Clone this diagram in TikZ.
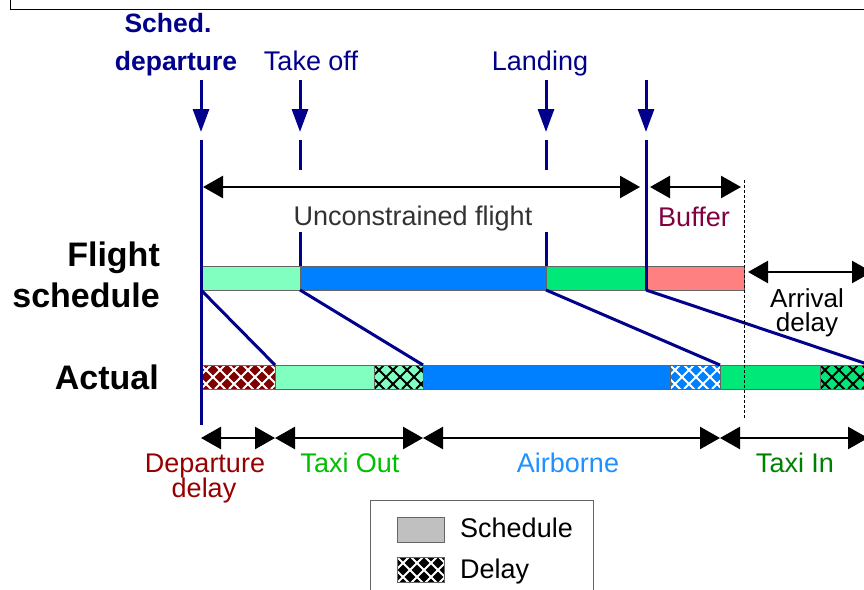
\documentclass[tikz,border=0pt]{standalone}
\usepackage{fontspec}
\setmainfont{Liberation Sans}
\usetikzlibrary{arrows.meta,calc}
\definecolor{navyc}{RGB}{0,0,140}
\definecolor{lgreen}{RGB}{128,255,192}
\definecolor{bblue}{RGB}{0,128,255}
\definecolor{mgreen}{RGB}{0,232,120}
\definecolor{salmon}{RGB}{255,128,128}
\definecolor{maroonc}{RGB}{128,0,0}
\definecolor{bufc}{RGB}{128,0,64}
\definecolor{depc}{RGB}{150,0,0}
\definecolor{toutc}{RGB}{0,190,0}
\definecolor{airc}{RGB}{30,144,255}
\definecolor{tinc}{RGB}{0,128,0}
\definecolor{edgec}{RGB}{100,100,100}
\definecolor{txtgrey}{RGB}{50,50,50}
\begin{document}
\begin{tikzpicture}[x=1pt,y=-1pt,
  lbl/.style={font=\fontsize{27}{30}\selectfont, inner sep=0pt, anchor=base},
  slbl/.style={font=\fontsize{26}{30}\selectfont, inner sep=0pt, anchor=base},
  blbl/.style={font=\fontsize{26.5}{30}\selectfont\bfseries, inner sep=0pt, anchor=base, text=navyc},
  biglbl/.style={font=\fontsize{34}{40}\selectfont\bfseries, inner sep=0pt, anchor=base east},
  seg/.style={draw=edgec, line width=1pt, anchor=north west, inner sep=0pt, outer sep=0pt, minimum height=24pt},
  hatch/.style={path picture={
     \foreach \k in {-3,...,9}{
       \draw[#1,line width=2pt] ($(path picture bounding box.south west)+(\k*14,0)$) -- ++(28,-28);
       \draw[#1,line width=2pt] ($(path picture bounding box.north west)+(\k*14,0)$) -- ++(28,28);
     }}},
  navyarr/.style={draw=navyc, line width=3pt, -{Triangle[length=23pt,width=16pt]}},
  navyline/.style={draw=navyc, line width=3pt},
  dim/.style={draw=black, line width=2.5pt, {Triangle[length=20pt,width=22pt]}-{Triangle[length=20pt,width=22pt]}}
]
\useasboundingbox (0,0) rectangle (864,589);
\clip (0,0) rectangle (864,589);

% title box remnant
\draw[line width=1pt] (10,-5) -- (10,9) -- (870,9);

% top labels
\node[blbl] (sched) at (168,32) {Sched.};
\node[blbl] (dep) at (176,70) {departure};
\node[lbl, text=navyc] (takeoff) at (311,70) {Take off};
\node[lbl, text=navyc] (landing) at (540,70) {Landing};

% navy arrows
\coordinate (t1) at (201,80); \coordinate (h1) at (201,132);
\coordinate (t2) at (300,80); \coordinate (h2) at (300,132);
\coordinate (t3) at (546,80); \coordinate (h3) at (546,132);
\coordinate (t4) at (646,80); \coordinate (h4) at (646,132);
\draw[navyarr] (t1) -- (h1);
\draw[navyarr] (t2) -- (h2);
\draw[navyarr] (t3) -- (h3);
\draw[navyarr] (t4) -- (h4);

% schedule bar
\node[seg, fill=lgreen, minimum width=99pt] (s1) at (201,266) {};
\node[seg, fill=bblue, minimum width=246pt] (s2) at (300,266) {};
\node[seg, fill=mgreen, minimum width=100pt] (s3) at (546,266) {};
\node[seg, fill=salmon, minimum width=98pt] (s4) at (646,266) {};

% actual bar
\node[seg, fill=maroonc, hatch=white, minimum width=74pt] (a1) at (201,365) {};
\node[seg, fill=lgreen, minimum width=99pt] (a2) at (275,365) {};
\node[seg, fill=lgreen, hatch=black, minimum width=49pt] (a3) at (374,365) {};
\node[seg, fill=bblue, minimum width=247pt] (a4) at (423,365) {};
\node[seg, fill=bblue, hatch=white, minimum width=50pt] (a5) at (670,365) {};
\node[seg, fill=mgreen, minimum width=100pt] (a6) at (720,365) {};
\node[seg, fill=mgreen, hatch=black, minimum width=50pt] (a7) at (820,365) {};

% vertical navy lines
\coordinate (v1top) at (201,140); \coordinate (v1bot) at (201,425);
\draw[navyline] (v1top) -- (v1bot);
\coordinate (v4top) at (646,140);
\draw[navyline] (v4top) -- (s4.south west);
\coordinate (d2a) at (300,140); \coordinate (d2b) at (300,170); \coordinate (d2c) at (300,232);
\draw[navyline] (d2a) -- (d2b);
\draw[navyline] (d2c) -- (s2.north west);
\coordinate (d3a) at (546,140); \coordinate (d3b) at (546,170); \coordinate (d3c) at (546,232);
\draw[navyline] (d3a) -- (d3b);
\draw[navyline] (d3c) -- (s3.north west);

% diagonals
\draw[navyline] (s1.south west) -- (a1.north east);
\draw[navyline] (s2.south west) -- (a3.north east);
\draw[navyline] (s3.south west) -- (a5.north east);
\draw[navyline] (s4.south west) -- (a7.north east);

% dotted line
\coordinate (dt) at (744,180); \coordinate (db) at (744,418);
\draw[line width=0.8pt, dash pattern=on 3pt off 2pt] (dt) -- (db);

% top dimension arrows
\coordinate (u1) at (203,187); \coordinate (u2) at (640,187);
\coordinate (b1) at (650,187); \coordinate (b2) at (741,187);
\draw[dim] (u1) -- (u2);
\draw[dim] (b1) -- (b2);
\node[lbl, text=txtgrey] (unc) at (413,225) {Unconstrained flight};
\node[lbl, text=bufc] (buf) at (694,226) {Buffer};

% arrival delay
\coordinate (ad1) at (748,272); \coordinate (ad2) at (872,272);
\draw[dim] (ad1) -- (ad2);
\node[slbl] (arr1) at (807,307) {Arrival};
\node[slbl] (arr2) at (807,331) {delay};

% row labels
\node[biglbl] (fl) at (160,266) {Flight};
\node[biglbl] (sc) at (160,307) {schedule};
\node[biglbl] (act) at (159,389) {Actual};

% bottom dimension arrows
\coordinate (p0) at (201,438); \coordinate (p1) at (275,438);
\coordinate (p2) at (423,438); \coordinate (p3) at (720,438);
\coordinate (p4) at (868,438);
\draw[dim] (p0) -- (p1);
\draw[dim] (p1) -- (p2);
\draw[dim] (p2) -- (p3);
\draw[dim] (p3) -- (p4);
\node[lbl, text=depc] (dd1) at (205,472) {Departure};
\node[lbl, text=depc] (dd2) at (204,497) {delay};
\node[lbl, text=toutc] (tout) at (350,472) {Taxi Out};
\node[lbl, text=airc] (air) at (568,472) {Airborne};
\node[lbl, text=tinc] (tin) at (795,472) {Taxi In};

% legend
\node[draw=edgec, line width=1pt, anchor=north west, minimum width=223pt, minimum height=110pt, inner sep=0pt] (leg) at (370,500) {};
\node[draw=edgec, line width=1pt, fill={rgb,255:red,192;green,192;blue,192}, anchor=north west, minimum width=47pt, minimum height=25pt, inner sep=0pt] (lg1) at (397,517) {};
\node[draw=edgec, line width=1pt, fill=black, hatch=white, anchor=north west, minimum width=47pt, minimum height=25pt, inner sep=0pt] (lg2) at (397,557) {};
\node[lbl, anchor=base west] (lt1) at (460,537) {Schedule};
\node[lbl, anchor=base west] (lt2) at (460,578) {Delay};
\end{tikzpicture}
\end{document}
